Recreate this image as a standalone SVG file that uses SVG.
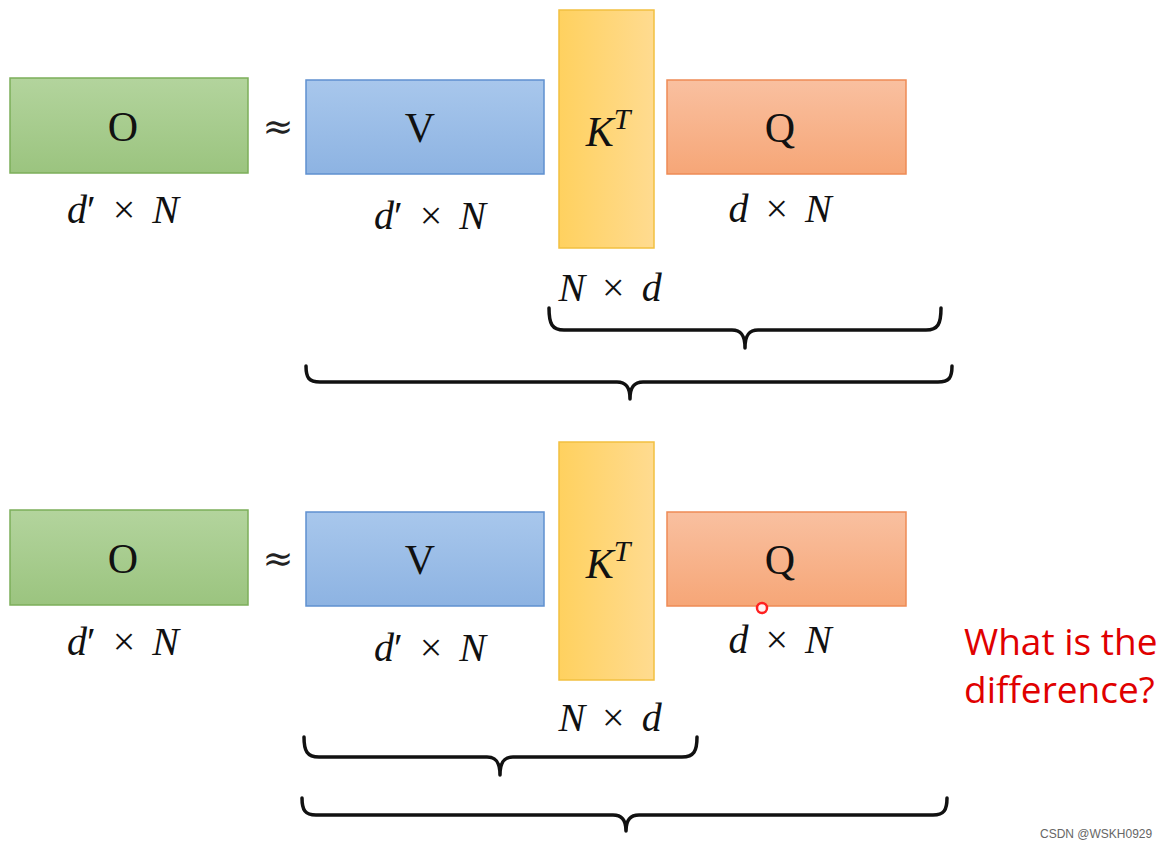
<svg xmlns="http://www.w3.org/2000/svg" width="1176" height="849" viewBox="0 0 1176 849">
<defs>
<linearGradient id="gGreen" x1="0" y1="0" x2="0" y2="1"><stop offset="0" stop-color="#b3d49d"/><stop offset="1" stop-color="#9bc47f"/></linearGradient>
<linearGradient id="gBlue" x1="0" y1="0" x2="0" y2="1"><stop offset="0" stop-color="#a8c7ec"/><stop offset="1" stop-color="#8db3e2"/></linearGradient>
<linearGradient id="gYellow" x1="0" y1="0" x2="1" y2="0"><stop offset="0" stop-color="#ffd15f"/><stop offset="1" stop-color="#ffdb90"/></linearGradient>
<linearGradient id="gOrange" x1="0" y1="0" x2="0" y2="1"><stop offset="0" stop-color="#f9c0a0"/><stop offset="1" stop-color="#f6a677"/></linearGradient>
<style>
.box{stroke-width:1.5}
.o{fill:url(#gGreen);stroke:#7cae5a}
.v{fill:url(#gBlue);stroke:#5f90cf}
.k{fill:url(#gYellow);stroke:#f2c040}
.q{fill:url(#gOrange);stroke:#ee8b55}
.big{font-family:"Liberation Serif",serif;font-size:42px;fill:#111;text-anchor:middle}
.dim{font-family:"Liberation Serif",serif;font-size:40px;fill:#111;text-anchor:middle;word-spacing:7px}
.it{font-style:italic}
.approx{font-family:"DejaVu Serif",serif;font-size:37px;fill:#222;text-anchor:middle}
.brace{fill:none;stroke:#111;stroke-width:3.5;stroke-linecap:round;stroke-linejoin:round}
.red{font-family:"Open Sans","Liberation Sans",sans-serif;font-size:37px;fill:#e00000}
.wm{font-family:"Liberation Sans",sans-serif;font-size:12px;fill:#666}
</style>
</defs>
<rect width="1176" height="849" fill="#ffffff"/>

<!-- Top row -->
<g id="O1"><rect class="box o" x="10" y="78" width="238" height="95"/><text class="big" x="123" y="141">O</text><text class="dim" x="123" y="223"><tspan class="it">d</tspan>′ × <tspan class="it">N</tspan></text></g>
<g id="approx1"><text class="approx" x="278" y="139">≈</text></g>
<g id="V1"><rect class="box v" x="306" y="80" width="238" height="94"/><text class="big" x="420" y="142">V</text><text class="dim" x="430" y="229"><tspan class="it">d</tspan>′ × <tspan class="it">N</tspan></text></g>
<g id="K1"><rect class="box k" x="559" y="10" width="95" height="238"/><text class="big" x="608" y="146"><tspan class="it">K</tspan><tspan class="it" font-size="30" dy="-17">T</tspan></text><text class="dim" x="610" y="301"><tspan class="it">N</tspan> × <tspan class="it">d</tspan></text></g>
<g id="Q1"><rect class="box q" x="667" y="80" width="239" height="94"/><text class="big" x="780" y="142">Q</text><text class="dim" x="780" y="222"><tspan class="it">d</tspan> × <tspan class="it">N</tspan></text></g>

<!-- Bottom row -->
<g id="O2"><rect class="box o" x="10" y="510" width="238" height="95"/><text class="big" x="123" y="573">O</text><text class="dim" x="123" y="655"><tspan class="it">d</tspan>′ × <tspan class="it">N</tspan></text></g>
<g id="approx2"><text class="approx" x="278" y="571">≈</text></g>
<g id="V2"><rect class="box v" x="306" y="512" width="238" height="94"/><text class="big" x="420" y="574">V</text><text class="dim" x="430" y="661"><tspan class="it">d</tspan>′ × <tspan class="it">N</tspan></text></g>
<g id="K2"><rect class="box k" x="559" y="442" width="95" height="238"/><text class="big" x="608" y="578"><tspan class="it">K</tspan><tspan class="it" font-size="30" dy="-17">T</tspan></text><text class="dim" x="610" y="731"><tspan class="it">N</tspan> × <tspan class="it">d</tspan></text></g>
<g id="Q2"><rect class="box q" x="667" y="512" width="239" height="94"/><text class="big" x="780" y="574">Q</text><text class="dim" x="780" y="653"><tspan class="it">d</tspan> × <tspan class="it">N</tspan></text></g>

<g id="question"><text class="red" x="964" y="655">What is the</text><text class="red" x="964" y="703">difference?</text></g>
<g id="cursor"><circle cx="762" cy="608" r="5" fill="#fff2f2" stroke="#ff2020" stroke-width="2.5"/></g>

<!-- Braces -->
<g id="connectors">
<path class="brace" d="M549,308 C549,324 552,330 564,330 L732,330 C740,330 745,334 745,348 M941,308 C941,324 938,330 926,330 L758,330 C750,330 745,334 745,348"/>
<path class="brace" d="M306,366 C306,378 309,382 320,382 L617,382 C625,382 630,386 630,399 M952,366 C952,378 949,382 938,382 L643,382 C635,382 630,386 630,399"/>
<path class="brace" d="M304,737 C304,751 307,757 319,757 L487,757 C495,757 500,761 500,775 M697,737 C697,751 694,757 682,757 L513,757 C505,757 500,761 500,775"/>
<path class="brace" d="M302,798 C302,810 305,815 316,815 L613,815 C621,815 626,819 626,831 M947,798 C947,810 944,815 933,815 L639,815 C631,815 626,819 626,831"/>
</g>

<text class="wm" x="1040" y="838">CSDN @WSKH0929</text>
</svg>
